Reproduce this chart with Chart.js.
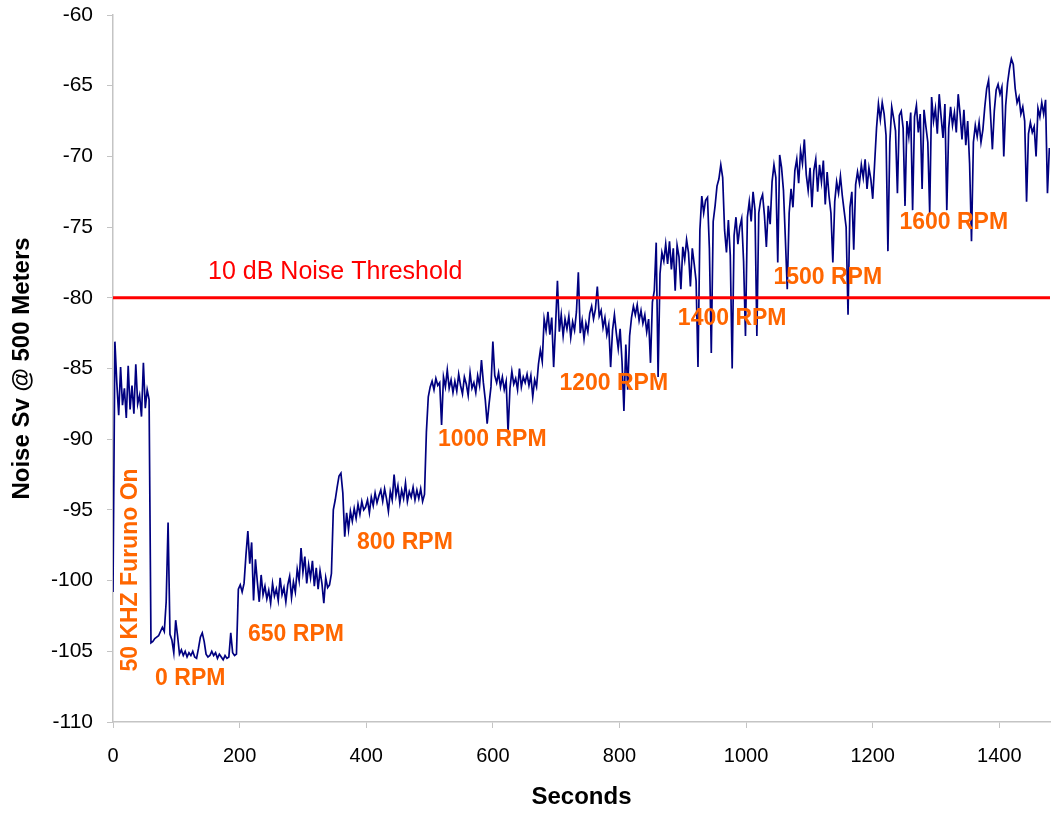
<!DOCTYPE html>
<html>
<head>
<meta charset="utf-8">
<title>Noise Sv @ 500 Meters</title>
<script src="https://cdn.jsdelivr.net/npm/chart.js@4.4.1/dist/chart.umd.min.js"></script>
<style>
  html, body { margin: 0; padding: 0; background: #fff; }
  #noiseChart { display: block; }
</style>
</head>
<body>
<canvas id="noiseChart" width="1052" height="817"></canvas>
<script>
// Sampling interval of the logged noise level, seconds
const sampleInterval = 3;

// Noise Sv @ 500 m (dB), one row per minute
const noiseSv = [
  -100.8, -83.1, -86.0, -88.3, -84.9, -87.6, -86.4, -88.5, -84.8, -87.9, -86.2, -88.2, -84.7, -87.5, -86.9, -88.4, -84.6, -87.8, -86.5, -87.2,
  -104.4, -104.3, -104.1, -104.0, -103.9, -103.6, -103.3, -103.6, -101.5, -95.9, -103.8, -104.2, -105.1, -102.8, -103.9, -105.2, -104.9, -105.3, -105.0, -105.4,
  -105.1, -105.3, -105.0, -105.4, -105.5, -104.8, -104.0, -103.7, -104.3, -105.2, -105.4, -105.3, -105.0, -105.3, -105.1, -105.5, -105.2, -105.4, -105.6, -105.3,
  -105.5, -105.4, -103.7, -105.1, -105.3, -105.2, -100.6, -100.3, -100.8, -100.2, -98.2, -96.5, -98.8, -97.3, -101.4, -98.5, -100.1, -101.5, -99.6, -101.0,
  -100.4, -101.3, -100.7, -101.6, -100.2, -101.1, -100.6, -101.4, -99.8, -101.0, -100.5, -101.5, -100.3, -99.7, -101.2, -100.1, -100.8, -99.2, -100.0, -97.7,
  -99.4, -98.3, -100.2, -98.9, -99.8, -98.6, -100.4, -99.1, -100.6, -99.3, -100.2, -101.6, -99.8, -100.5, -100.3, -99.5, -95.0, -94.3, -93.4, -92.6,
  -92.4, -93.8, -96.9, -95.2, -96.4, -95.1, -95.8, -94.9, -95.6, -94.6, -95.3, -94.4, -95.0, -94.8, -94.3, -95.2, -94.1, -94.7, -93.8, -94.5,
  -94.0, -93.6, -94.4, -93.5, -94.2, -95.1, -93.7, -94.3, -92.5, -94.0, -93.3, -94.5, -93.6, -94.2, -93.1, -94.4, -93.7, -94.1, -93.4, -94.3,
  -93.6, -94.2, -93.5, -94.4, -93.9, -89.5, -87.0, -86.3, -85.9, -86.5, -85.7, -86.2, -86.0, -89.0, -85.6, -86.3, -85.1, -86.4, -85.8, -86.7,
  -85.9, -86.6, -85.4, -86.2, -86.8, -85.6, -86.1, -86.9, -85.3, -86.4, -86.0, -86.7, -85.5, -86.2, -84.4, -86.0, -87.2, -88.9, -87.5, -86.3,
  -83.1, -85.5, -86.0, -85.3, -86.3, -85.6, -86.5, -85.9, -89.5, -86.4, -85.2, -86.1, -85.7, -86.5, -85.0, -86.3, -85.6, -86.0, -85.4, -86.2,
  -85.5, -87.0, -85.8, -86.3, -84.7, -83.7, -84.5, -81.5, -82.3, -81.0, -82.6, -81.4, -84.9, -82.0, -78.8, -82.4, -81.2, -82.7, -81.5, -82.2,
  -81.3, -82.8, -81.7, -82.3, -81.0, -78.2, -82.5, -81.6, -82.9, -81.8, -82.4, -81.1, -80.6, -81.5, -80.8, -79.2, -81.3, -80.9, -82.1, -81.4,
  -82.6, -81.9, -84.9, -82.3, -81.2, -82.5, -83.6, -82.2, -84.5, -88.0, -83.3, -86.5, -82.7, -81.4, -80.6, -81.2, -80.5, -81.6, -80.9, -81.8,
  -81.2, -82.4, -81.5, -84.6, -80.3, -79.5, -76.1, -85.6, -78.3, -76.8, -77.4, -76.2, -77.6, -76.0, -78.0, -76.5, -79.5, -76.3, -77.1, -79.4,
  -76.4, -77.3, -75.9, -76.8, -79.2, -76.5, -77.6, -78.8, -84.9, -75.2, -72.8, -74.0, -73.1, -72.9, -76.5, -83.9, -74.6, -73.5, -72.1, -71.6,
  -70.6, -71.5, -75.2, -76.8, -74.5, -77.0, -85.0, -75.6, -74.3, -76.2, -75.0, -74.4, -77.4, -82.7, -74.3, -73.2, -74.6, -72.5, -73.8, -82.7,
  -74.0, -73.1, -72.7, -74.2, -76.4, -73.5, -74.8, -71.8, -70.6, -71.5, -77.5, -69.9, -70.8, -72.4, -75.8, -79.4, -74.0, -72.3, -73.6, -71.0,
  -70.2, -71.9, -69.6, -70.5, -68.8, -71.3, -72.4, -70.8, -73.6, -71.0, -70.2, -72.5, -70.6, -71.8, -70.3, -73.4, -71.1, -72.8, -74.0, -77.5,
  -73.2, -71.8, -72.6, -71.4, -72.8, -73.9, -75.0, -81.2, -73.6, -72.5, -76.6, -72.0, -71.1, -71.9, -70.6, -71.5, -70.2, -72.3, -70.8, -71.6,
  -73.0, -70.5, -68.0, -66.3, -67.4, -66.2, -67.0, -68.5, -76.7, -69.0, -66.5, -67.3, -68.2, -72.6, -67.1, -66.8, -68.0, -73.5, -67.5, -68.6,
  -66.9, -73.8, -67.2, -66.4, -68.3, -67.0, -72.3, -66.7, -67.9, -69.0, -74.0, -65.8, -67.5, -66.6, -68.4, -65.6, -67.2, -68.7, -66.3, -73.8,
  -68.0, -66.5, -67.8, -66.9, -68.3, -65.6, -67.0, -68.8, -66.7, -69.2, -67.5, -70.5, -76.0, -69.0, -67.8, -68.6, -67.6, -69.0, -68.1, -66.5,
  -65.2, -64.6, -67.0, -69.5, -66.8, -65.3, -64.9, -65.6, -65.1, -70.0, -66.4, -64.8, -63.8, -63.1, -63.5, -65.2, -66.2, -65.8, -67.0, -66.5,
  -67.5, -73.2, -68.4, -67.6, -68.3, -67.9, -70.0, -66.6, -67.2, -66.2, -67.0, -66.0, -72.6, -69.4
];
const seconds = noiseSv.map((v, i) => i * sampleInterval);

const thresholdDb = -80;
const xTickValues = [0, 200, 400, 600, 800, 1000, 1200, 1400];
const yTickValues = [-110, -105, -100, -95, -90, -85, -80, -75, -70, -65, -60];

const fontFamily = '"Liberation Sans", Arial, Helvetica, sans-serif';
const axisGray = '#c4c4c4';

// Text notes placed in data units (seconds, dB)
const stageNotes = [
  { text: '0 RPM', x: 122, y: -106.9 },
  { text: '650 RPM', x: 289, y: -103.85 },
  { text: '800 RPM', x: 461, y: -97.35 },
  { text: '1000 RPM', x: 599, y: -90.05 },
  { text: '1200 RPM', x: 791, y: -86.05 },
  { text: '1400 RPM', x: 978, y: -81.45 },
  { text: '1500 RPM', x: 1129, y: -78.55 },
  { text: '1600 RPM', x: 1328, y: -74.7 }
];

const notesPlugin = {
  id: 'stageNotes',
  afterDatasetsDraw(chart) {
    const { ctx, scales: { x, y } } = chart;
    ctx.save();
    ctx.textAlign = 'center';
    ctx.textBaseline = 'middle';

    ctx.fillStyle = '#ff0000';
    ctx.font = '25px ' + fontFamily;
    ctx.fillText('10 dB Noise Threshold', x.getPixelForValue(351), y.getPixelForValue(-78.2));

    ctx.fillStyle = '#ff6600';
    ctx.font = 'bold 23px ' + fontFamily;
    stageNotes.forEach(n => {
      ctx.fillText(n.text, x.getPixelForValue(n.x), y.getPixelForValue(n.y));
    });

    // sonar switch-on note, written bottom to top
    ctx.translate(x.getPixelForValue(28), y.getPixelForValue(-99.25));
    ctx.rotate(-Math.PI / 2);
    ctx.fillText('50 KHZ Furuno On', 0, 0);
    ctx.restore();
  }
};

const ctx = document.getElementById('noiseChart').getContext('2d');
const noiseChart = new Chart(ctx, {
  type: 'line',
  data: {
    datasets: [{
      label: '10 dB Noise Threshold',
      data: [{ x: 0, y: thresholdDb }, { x: 1480, y: thresholdDb }],
      borderColor: '#ff0000',
      borderWidth: 3,
      pointRadius: 0
    }, {
      label: 'Noise Sv @ 500 Meters',
      data: seconds.map((t, i) => ({ x: t, y: noiseSv[i] })),
      borderColor: '#000080',
      borderWidth: 1.7,
      pointRadius: 0,
      tension: 0
    }]
  },
  options: {
    responsive: false,
    animation: false,
    layout: { padding: { top: 15, right: 2, left: 0, bottom: 0 } },
    plugins: {
      legend: { display: false },
      tooltip: { enabled: false }
    },
    scales: {
      x: {
        type: 'linear',
        min: 0,
        max: 1480,
        afterBuildTicks: s => { s.ticks = xTickValues.map(v => ({ value: v })); },
        afterFit: s => {
          s.height = 95;
          s.paddingLeft = 0;
          s.paddingRight = 0;
        },
        grid: { drawOnChartArea: false, color: axisGray, tickLength: 6 },
        border: { color: axisGray, width: 1.5 },
        ticks: {
          color: '#000', padding: 16, maxRotation: 0,
          callback: v => String(v),
          font: { family: fontFamily, size: 20 }
        },
        title: {
          display: true,
          text: 'Seconds',
          color: '#000',
          padding: { top: 0, bottom: 5 },
          font: { family: fontFamily, size: 24, weight: 'bold' }
        }
      },
      y: {
        min: -110,
        max: -60,
        afterBuildTicks: s => { s.ticks = yTickValues.map(v => ({ value: v })); },
        afterFit: s => {
          s.width = 113;
          s.paddingTop = 0;
          s.paddingBottom = 0;
        },
        grid: { drawOnChartArea: false, color: axisGray, tickLength: 6 },
        border: { color: axisGray, width: 1.5 },
        ticks: {
          color: '#000', padding: 14,
          callback: v => String(v),
          font: { family: fontFamily, size: 21 }
        },
        title: {
          display: true,
          text: 'Noise Sv @ 500 Meters',
          color: '#000',
          padding: { top: 8, bottom: 0 },
          font: { family: fontFamily, size: 24, weight: 'bold' }
        }
      }
    }
  },
  plugins: [notesPlugin]
});
</script>
</body>
</html>
